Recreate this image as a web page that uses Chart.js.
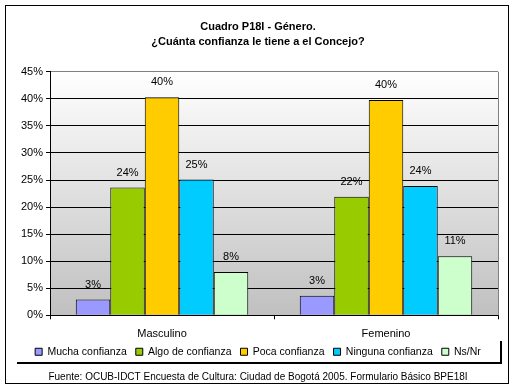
<!DOCTYPE html>
<html>
<head>
<meta charset="utf-8">
<script src="https://cdn.jsdelivr.net/npm/chart.js@4"></script>
<style>
  body { margin: 0; background: #fff; }
</style>
</head>
<body>
<canvas id="myChart" width="515" height="391"></canvas>
<script>
// categorias y valores (en %)
var categorias = ['Masculino', 'Femenino'];
var series = ['Mucha confianza', 'Algo de confianza', 'Poca confianza', 'Ninguna confianza', 'Ns/Nr'];
var mucha = [2.9, 3.6];
var algo = [23.6, 21.9];
var poca = [40.3, 39.8];
var ninguna = [25.1, 23.9];
var nsnr = [8.0, 10.9];
// etiquetas que muestra el cuadro
var etiquetas = [['3%', '3%'], ['24%', '22%'], ['40%', '40%'], ['25%', '24%'], ['8%', '11%']];
var colores = ['#9999FF', '#99CC00', '#FFCC00', '#00CCFF', '#CCFFCC'];
var fuente = 'Fuente: OCUB-IDCT Encuesta de Cultura: Ciudad de Bogotá 2005. Formulario Básico BPE18I';

Chart.defaults.font.family = '"Liberation Sans", Arial, sans-serif';
Chart.defaults.font.size = 11;
Chart.defaults.color = '#000';

var valores = [mucha, algo, poca, ninguna, nsnr];
var datasets = series.map(function(s, i) {
  return {
    label: s,
    data: valores[i],
    backgroundColor: colores[i],
    borderColor: '#000',
    borderWidth: 1,
    barPercentage: 1,
    categoryPercentage: 0.77
  };
});

// fondo degradado, marco y etiquetas
var decorado = {
  id: 'decorado',
  beforeDraw: function(chart) {
    var c = chart.ctx, a = chart.chartArea;
    c.save();
    var g = c.createLinearGradient(0, a.top, 0, a.bottom);
    g.addColorStop(0, '#ffffff');
    g.addColorStop(1, '#c0c0c0');
    c.fillStyle = g;
    c.fillRect(a.left, a.top, a.right - a.left, a.bottom - a.top);
    c.restore();
  },
  afterDatasetsDraw: function(chart) {
    var c = chart.ctx, a = chart.chartArea;
    c.save();
    // borde derecho gris
    c.strokeStyle = '#808080';
    c.lineWidth = 1;
    c.beginPath();
    c.moveTo(Math.round(a.right) + 0.5, a.top);
    c.lineTo(Math.round(a.right) + 0.5, a.bottom);
    c.stroke();
    // etiquetas de las barras
    c.fillStyle = '#000';
    c.font = '11px "Liberation Sans", Arial, sans-serif';
    c.textAlign = 'center';
    c.textBaseline = 'middle';
    chart.data.datasets.forEach(function(ds, i) {
      chart.getDatasetMeta(i).data.forEach(function(bar, j) {
        c.fillText(etiquetas[i][j], bar.x, bar.y - 15);
      });
    });
    c.restore();
  },
  afterDraw: function(chart) {
    var c = chart.ctx;
    c.save();
    c.strokeStyle = '#000';
    c.lineWidth = 1;
    c.strokeRect(5.5, 5.5, 503, 378);
    // sombra de la leyenda
    c.lineWidth = 2;
    c.beginPath();
    c.moveTo(17, 363);
    c.lineTo(501, 363);
    c.lineTo(501, 341);
    c.stroke();
    c.restore();
  }
};

var ctx = document.getElementById('myChart').getContext('2d');
var chart = new Chart(ctx, {
  type: 'bar',
  data: { labels: categorias, datasets: datasets },
  options: {
    responsive: false,
    animation: false,
    layout: { padding: { left: 18, right: 17, top: 0, bottom: 2 } },
    plugins: {
      title: {
        display: true,
        text: ['Cuadro P18I - Género.', '¿Cuánta confianza le tiene a el Concejo?'],
        font: { size: 11, weight: 'bold', lineHeight: 1.4 },
        color: '#000',
        padding: { top: 19, bottom: 22 }
      },
      subtitle: {
        display: true,
        position: 'bottom',
        text: fuente,
        font: { size: 10 },
        color: '#000',
        padding: { top: 4, bottom: 6 }
      },
      legend: {
        position: 'bottom',
        labels: {
          boxWidth: 7,
          boxHeight: 7,
          padding: 9,
          color: '#000',
          font: { size: 10.5 }
        }
      },
      tooltip: { enabled: false }
    },
    scales: {
      x: {
        grid: { drawOnChartArea: false, tickLength: 4, tickColor: '#000' },
        border: { color: '#000' },
        ticks: { color: '#000', padding: 8 },
        // el eje se acerca a la leyenda
        afterFit: function(s) { s.height -= 11; }
      },
      y: {
        min: 0,
        max: 45,
        ticks: {
          stepSize: 5,
          color: '#000',
          padding: 3,
          callback: function(v) { return v + '%'; }
        },
        grid: {
          color: function(c) { return c.tick && c.tick.value === 45 ? '#808080' : '#000'; },
          tickColor: '#000',
          tickLength: 4
        },
        border: { color: '#000' }
      }
    }
  },
  plugins: [decorado]
});
</script>
</body>
</html>
